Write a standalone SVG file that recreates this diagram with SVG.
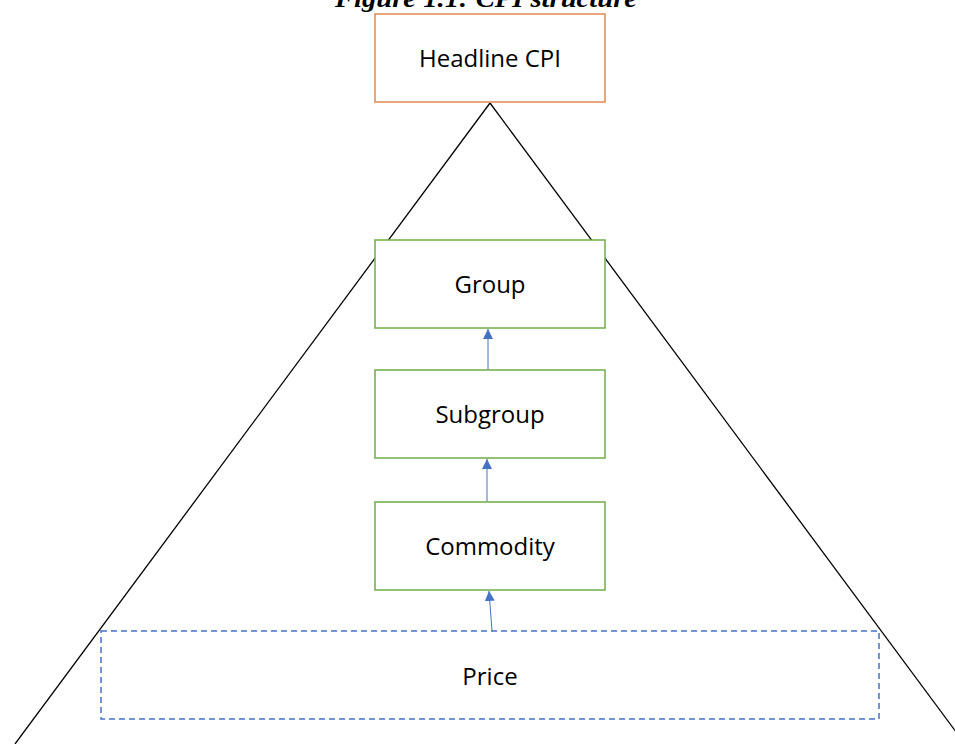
<svg xmlns="http://www.w3.org/2000/svg" width="955" height="744" viewBox="0 0 955 744">
<defs>
<style>
.tri{stroke:#000;stroke-width:1.3;fill:none}
.box{fill:#fff;stroke:#70AD47;stroke-width:1.5}
.lbl{font-family:"Open Sans","Liberation Sans",sans-serif;font-size:24px;fill:#000;text-anchor:middle}
.conn{stroke:#4472C4;stroke-width:1;fill:none;marker-end:url(#ah)}
</style>
<marker id="ah" viewBox="0 0 10 10" refX="10" refY="5" markerWidth="10" markerHeight="10" markerUnits="userSpaceOnUse" orient="auto">
<path d="M0,0 L10,5 L0,10 z" fill="#4472C4"/>
</marker>
</defs>
<rect width="955" height="744" fill="#fff"/>
<text x="486" y="7" font-family="'Liberation Serif',serif" font-weight="bold" font-style="italic" font-size="26" text-anchor="middle" textLength="302" lengthAdjust="spacingAndGlyphs">Figure 1.1: CPI structure</text>
<g id="triangle">
<line class="tri" x1="490" y1="103" x2="15" y2="744"/>
<line class="tri" x1="490" y1="103" x2="965" y2="744"/>
</g>
<g id="connectors">
<line class="conn" x1="488" y1="370" x2="488" y2="329"/>
<line class="conn" x1="487" y1="502" x2="487" y2="459"/>
<line class="conn" x1="492" y1="631" x2="489" y2="591"/>
</g>
<g id="headline">
<rect x="375" y="14" width="230" height="88" fill="#fff" stroke="#E08A4F" stroke-width="1.5"/>
<text class="lbl" x="490" y="67">Headline CPI</text>
</g>
<g id="group">
<rect class="box" x="375" y="240" width="230" height="88"/>
<text class="lbl" x="490" y="293">Group</text>
</g>
<g id="subgroup">
<rect class="box" x="375" y="370" width="230" height="88"/>
<text class="lbl" x="490" y="423">Subgroup</text>
</g>
<g id="commodity">
<rect class="box" x="375" y="502" width="230" height="88"/>
<text class="lbl" x="490" y="555">Commodity</text>
</g>
<g id="price">
<rect x="101" y="631" width="778" height="88" fill="#fff" stroke="#4472C4" stroke-width="1.5" stroke-dasharray="6,4"/>
<text class="lbl" x="490" y="685">Price</text>
</g>
</svg>
